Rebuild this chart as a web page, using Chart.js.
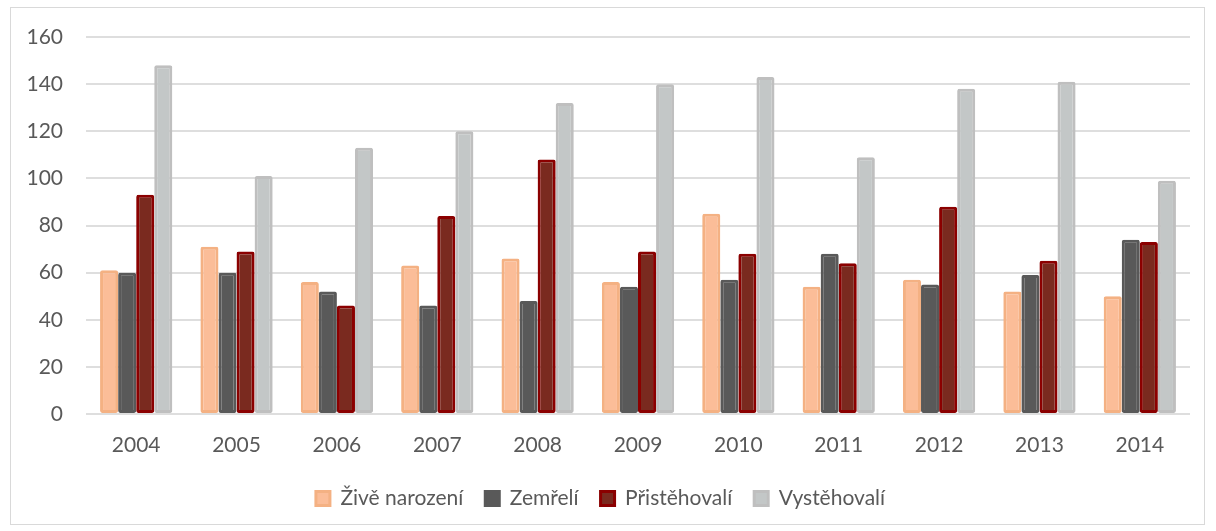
<!DOCTYPE html>
<html>
<head>
<meta charset="utf-8">
<script src="https://cdn.jsdelivr.net/npm/chart.js@4.4.1/dist/chart.umd.min.js"></script>
<style>
  body { margin: 0; background: #fff; }
  #box {
    position: absolute; left: 10px; top: 7px;
    width: 1193px; height: 516px;
    border: 1px solid #d9d9d9;
  }
</style>
</head>
<body>
<div id="box"><canvas id="chart"></canvas></div>
<script>
// Years on the x axis
const years = ["2004", "2005", "2006", "2007", "2008", "2009", "2010", "2011", "2012", "2013", "2014"];

// Series values
const narozeni = [61, 71, 56, 63, 66, 56, 85, 54, 57, 52, 50];
const zemreli = [60, 60, 52, 46, 48, 54, 57, 68, 55, 59, 74];
const pristehovali = [93, 69, 46, 84, 108, 69, 68, 64, 88, 65, 73];
const vystehovali = [148, 101, 113, 120, 132, 140, 143, 109, 138, 141, 99];

const yTicks = [0, 20, 40, 60, 80, 100, 120, 140, 160];

const FONT = "Lato, 'Open Sans', sans-serif";
const TXT = "#595959";

function bar(label, data, fill, border) {
  return {
    label: label,
    data: data,
    backgroundColor: fill,
    borderColor: border,
    borderWidth: 3,
    borderRadius: 2,
    borderSkipped: false
  };
}

const ctx = document.getElementById("chart");
new Chart(ctx, {
  type: "bar",
  data: {
    labels: years,
    datasets: [
      bar("Živě narození", narozeni, "#FBBD98", "#F4B183"),
      bar("Zemřelí", zemreli, "#595959", "#595959"),
      bar("Přistěhovalí", pristehovali, "#7A2A1F", "#8B0000"),
      bar("Vystěhovalí", vystehovali, "#C3C7C7", "#BFBFBF")
    ]
  },
  options: {
    responsive: true,
    maintainAspectRatio: false,
    animation: false,
    datasets: { bar: { categoryPercentage: 0.72, barPercentage: 1 } },
    layout: { padding: { top: 29, right: 14, bottom: 5, left: 0 } },
    plugins: {
      tooltip: { enabled: false },
      legend: {
        position: "bottom",
        labels: {
          color: TXT,
          font: { family: FONT, size: 21 },
          boxWidth: 14,
          boxHeight: 14,
          padding: 22
        }
      }
    },
    scales: {
      x: {
        grid: { display: false },
        border: { display: false },
        ticks: { color: TXT, font: { family: FONT, size: 21 }, padding: 11 },
        afterFit: s => { s.height = 52; }
      },
      y: {
        min: 0,
        max: 160,
        afterBuildTicks: s => { s.ticks = yTicks.map(v => ({ value: v })); },
        grid: { color: "#dedede", lineWidth: 2, drawTicks: true, tickLength: 23, tickColor: "rgba(0,0,0,0)" },
        border: { display: false },
        ticks: { color: TXT, font: { family: FONT, size: 21 }, padding: 0 },
        afterFit: s => { s.width = 75; }
      }
    }
  }
});
</script>
</body>
</html>
